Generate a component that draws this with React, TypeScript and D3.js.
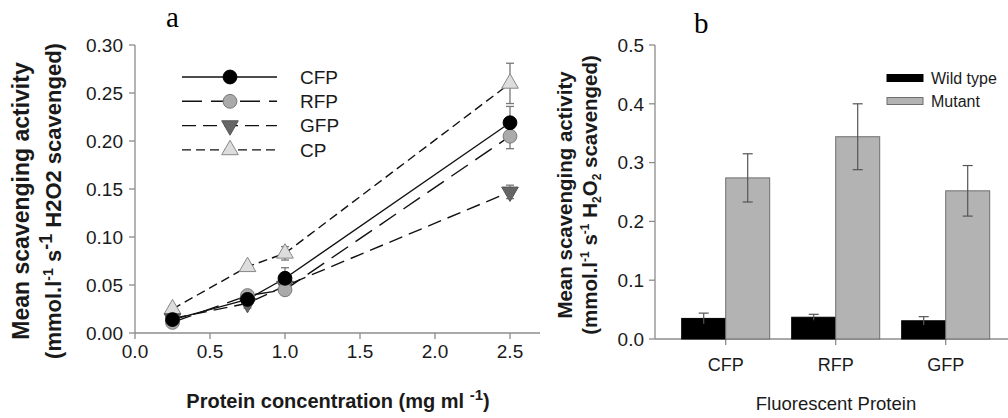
import React from "react";
import * as d3 from "d3";

// ---------- Panel a data ----------
const concentrations = [0.25, 0.75, 1.0, 2.5];
const lineSeries = ["CFP", "RFP", "GFP", "CP"];
const cfpValues = [0.014, 0.035, 0.057, 0.219];
const cfpErrors = [0.003, 0.004, 0.011, 0.017];
const rfpValues = [0.011, 0.039, 0.045, 0.205];
const rfpErrors = [0.003, 0.004, 0.004, 0.013];
const gfpValues = [0.015, 0.031, 0.049, 0.147];
const gfpErrors = [0.003, 0.005, 0.004, 0.007];
const cpValues = [0.025, 0.069, 0.083, 0.260];
const cpErrors = [0.003, 0.003, 0.007, 0.021];
const xTicksA = [0.0, 0.5, 1.0, 1.5, 2.0, 2.5];
const yTicksA = [0.0, 0.05, 0.1, 0.15, 0.2, 0.25, 0.3];

// ---------- Panel b data ----------
const proteins = ["CFP", "RFP", "GFP"];
const groups = ["Wild type", "Mutant"];
const wildValues = [0.035, 0.037, 0.031];
const wildErrors = [0.009, 0.005, 0.007];
const mutantValues = [0.274, 0.344, 0.252];
const mutantErrors = [0.041, 0.056, 0.043];
const yTicksB = [0.0, 0.1, 0.2, 0.3, 0.4, 0.5];

const FONT = "Liberation Sans, Arial, sans-serif";

type Style = { fill: string; stroke: string; dash: string; symbol: d3.SymbolType; rotate: number; size: number };
const styles: Record<string, Style> = {
  CFP: { fill: "#000", stroke: "#000", dash: "", symbol: d3.symbolCircle, rotate: 0, size: 150 },
  RFP: { fill: "#aaa", stroke: "#777", dash: "20,9", symbol: d3.symbolCircle, rotate: 0, size: 150 },
  GFP: { fill: "#666", stroke: "#555", dash: "14,7", symbol: d3.symbolTriangle, rotate: 180, size: 120 },
  CP: { fill: "#ddd", stroke: "#888", dash: "9,5", symbol: d3.symbolTriangle, rotate: 0, size: 120 },
};
const seriesData: Record<string, { v: number[]; e: number[] }> = {
  CFP: { v: cfpValues, e: cfpErrors },
  RFP: { v: rfpValues, e: rfpErrors },
  GFP: { v: gfpValues, e: gfpErrors },
  CP: { v: cpValues, e: cpErrors },
};

export default function App() {
  const xA = d3.scaleLinear().domain([0, 2.7]).range([135, 540]);
  const yA = d3.scaleLinear().domain([0, 0.3]).range([333, 45]);
  const lineGen = d3.line<number>().x((_, i) => xA(concentrations[i])).y((d) => yA(d));

  const yB = d3.scaleLinear().domain([0, 0.5]).range([339, 45]);
  const xB = d3.scaleBand<string>().domain(proteins).range([670.7, 1000.7]).paddingInner(0.2).paddingOuter(0.1);
  const xSub = d3.scaleBand<string>().domain(groups).range([0, xB.bandwidth()]);
  const groupFill: Record<string, string> = { "Wild type": "#000", Mutant: "#b3b3b3" };
  const groupStroke: Record<string, string> = { "Wild type": "#000", Mutant: "#6f6f6f" };

  const axisColor = "#8c8c8c";
  const textColor = "#1a1a1a";
  const order = ["CP", "GFP", "RFP", "CFP"];

  return (
    <svg width={1008} height={418} style={{ position: "absolute", left: 0, top: 0, background: "#fff" }} fontFamily={FONT}>
      <rect width={1008} height={418} fill="#fff" />
      {/* panel letters */}
      <text x={166} y={27} fontFamily="Liberation Serif, Times New Roman, serif" fontSize={29} fill="#000">a</text>
      <text x={694} y={33} fontFamily="Liberation Serif, Times New Roman, serif" fontSize={29} fill="#000">b</text>

      {/* ---------- Panel a ---------- */}
      <line x1={135} x2={135} y1={yA(0.3)} y2={yA(0)} stroke={axisColor} strokeWidth={1.3} />
      <line x1={135} x2={540} y1={yA(0)} y2={yA(0)} stroke={axisColor} strokeWidth={1.3} />
      {yTicksA.map((t) => (
        <g key={"ya" + t}>
          <line x1={129} x2={135} y1={yA(t)} y2={yA(t)} stroke={axisColor} strokeWidth={1.3} />
          <text x={123} y={yA(t)} dy="0.36em" textAnchor="end" fontSize={19} fill={textColor}>{t.toFixed(2)}</text>
        </g>
      ))}
      {xTicksA.map((t) => (
        <g key={"xa" + t}>
          <line x1={xA(t)} x2={xA(t)} y1={yA(0)} y2={yA(0) + 6} stroke={axisColor} strokeWidth={1.3} />
          <text x={xA(t)} y={358} textAnchor="middle" fontSize={19} fill={textColor}>{t.toFixed(1)}</text>
        </g>
      ))}
      <text x={338} y={408} textAnchor="middle" fontSize={20} fontWeight="bold" fill={textColor}>
        Protein concentration (mg ml <tspan dy={-8} fontSize={15}>-1</tspan><tspan dy={8}>)</tspan>
      </text>
      <g transform="translate(29,201) rotate(-90)">
        <text x={0} y={0} textAnchor="middle" fontSize={23} fontWeight="bold" fill={textColor}>Mean scavenging activity</text>
        <text x={0} y={32} textAnchor="middle" fontSize={22} fontWeight="bold" fill={textColor}>
          (mmol.l<tspan dy={-8} fontSize={14}>-1</tspan><tspan dy={8}> s</tspan><tspan dy={-9} fontSize={18}>-1</tspan><tspan dy={9}> H2O2 scavenged)</tspan>
        </text>
      </g>

      {/* lines */}
      {order.map((s) => (
        <path key={"l" + s} d={lineGen(seriesData[s].v) || ""} fill="none" stroke="#111" strokeWidth={1.4} strokeDasharray={styles[s].dash} />
      ))}
      {/* error bars */}
      {order.map((s) =>
        concentrations.map((c, i) => {
          const v = seriesData[s].v[i];
          const e = seriesData[s].e[i];
          const x = xA(c);
          return (
            <g key={"e" + s + i} stroke="#777" strokeWidth={1.3}>
              <line x1={x} x2={x} y1={yA(v - e)} y2={yA(v + e)} />
              <line x1={x - 4} x2={x + 4} y1={yA(v + e)} y2={yA(v + e)} />
              <line x1={x - 4} x2={x + 4} y1={yA(v - e)} y2={yA(v - e)} />
            </g>
          );
        })
      )}
      {/* markers */}
      {order.map((s) =>
        concentrations.map((c, i) => {
          const st = styles[s];
          const p = d3.symbol().type(st.symbol).size(st.size)() || "";
          return (
            <path key={"m" + s + i} d={p} transform={`translate(${xA(c)},${yA(seriesData[s].v[i])}) rotate(${st.rotate})`} fill={st.fill} stroke={st.stroke} strokeWidth={1} />
          );
        })
      )}
      {/* legend a */}
      {lineSeries.map((s, i) => {
        const y = 77 + i * 24.3;
        const st = styles[s];
        const p = d3.symbol().type(st.symbol).size(st.size)() || "";
        return (
          <g key={"lg" + s}>
            <line x1={182} x2={277} y1={y} y2={y} stroke="#111" strokeWidth={1.4} strokeDasharray={st.dash} />
            <path d={p} transform={`translate(230,${y}) rotate(${st.rotate})`} fill={st.fill} stroke={st.stroke} strokeWidth={1} />
            <text x={300} y={y} dy="0.36em" fontSize={19} fill={textColor}>{s}</text>
          </g>
        );
      })}

      {/* ---------- Panel b ---------- */}
      <line x1={655} x2={655} y1={yB(0.5)} y2={yB(0)} stroke={axisColor} strokeWidth={1.3} />
      <line x1={655} x2={1008} y1={yB(0)} y2={yB(0)} stroke={axisColor} strokeWidth={1.3} />
      {yTicksB.map((t) => (
        <g key={"yb" + t}>
          <line x1={649} x2={655} y1={yB(t)} y2={yB(t)} stroke={axisColor} strokeWidth={1.3} />
          <text x={644} y={yB(t)} dy="0.36em" textAnchor="end" fontSize={19} fill={textColor}>{t.toFixed(1)}</text>
        </g>
      ))}
      {proteins.map((p) => {
        const cx = (xB(p) || 0) + xB.bandwidth() / 2;
        return (
          <g key={"xb" + p}>
            <line x1={cx} x2={cx} y1={yB(0)} y2={yB(0) + 6} stroke={axisColor} strokeWidth={1.3} />
            <text x={cx} y={371} textAnchor="middle" fontSize={18} fill={textColor}>{p}</text>
          </g>
        );
      })}
      <text x={836} y={410} textAnchor="middle" fontSize={18.5} fill={textColor}>Fluorescent Protein</text>
      <g transform="translate(572,195) rotate(-90)">
        <text x={0} y={0} textAnchor="middle" fontSize={20.5} fontWeight="bold" fill={textColor}>Mean scavenging activity</text>
        <text x={0} y={25} textAnchor="middle" fontSize={20.5} fontWeight="bold" fill={textColor}>
          (mmol.l<tspan dy={-8} fontSize={12}>-1</tspan><tspan dy={8}> s</tspan><tspan dy={-8} fontSize={12}>-1</tspan><tspan dy={8}> H</tspan><tspan dy={4} fontSize={12}>2</tspan><tspan dy={-4}>O</tspan><tspan dy={4} fontSize={12}>2</tspan><tspan dy={-4}> scavenged)</tspan>
        </text>
      </g>
      {proteins.map((p, i) => {
        const vals: Record<string, number> = { "Wild type": wildValues[i], Mutant: mutantValues[i] };
        const errs: Record<string, number> = { "Wild type": wildErrors[i], Mutant: mutantErrors[i] };
        return groups.map((g) => {
          const x = (xB(p) || 0) + (xSub(g) || 0);
          const w = xSub.bandwidth();
          const v = vals[g];
          const e = errs[g];
          const cx = x + w / 2;
          return (
            <g key={"bar" + p + g}>
              <rect x={x} y={yB(v)} width={w} height={yB(0) - yB(v)} fill={groupFill[g]} stroke={groupStroke[g]} strokeWidth={1} />
              <g stroke="#555" strokeWidth={1.2}>
                <line x1={cx} x2={cx} y1={yB(v - e)} y2={yB(v + e)} />
                <line x1={cx - 5} x2={cx + 5} y1={yB(v + e)} y2={yB(v + e)} />
                {g === "Mutant" && <line x1={cx - 5} x2={cx + 5} y1={yB(v - e)} y2={yB(v - e)} />}
              </g>
            </g>
          );
        });
      })}
      {/* legend b */}
      {groups.map((g, i) => {
        const y = 78 + i * 23;
        return (
          <g key={"lgb" + g}>
            <rect x={887} y={y - 3.5} width={36} height={7} fill={groupFill[g]} stroke={groupStroke[g]} strokeWidth={1} />
            <text x={931} y={y} dy="0.36em" fontSize={16} fill={textColor}>{g}</text>
          </g>
        );
      })}
    </svg>
  );
}
